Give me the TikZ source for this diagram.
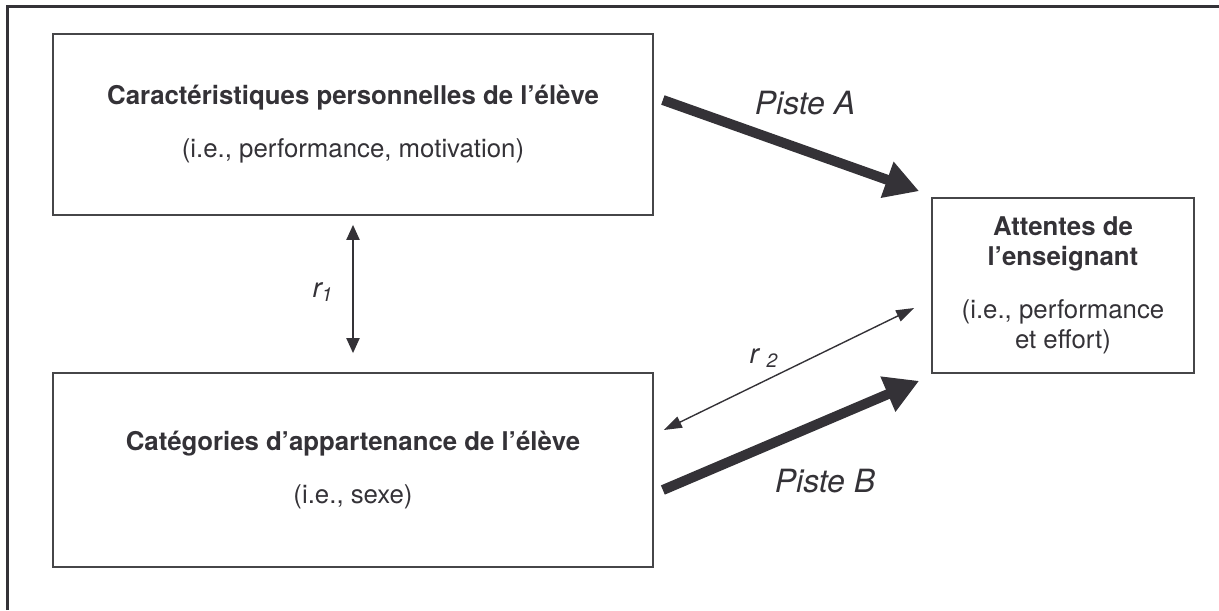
\documentclass[tikz,border=0pt]{standalone}
\usepackage{fontspec}
\setmainfont{TeX Gyre Heros}
\usetikzlibrary{arrows.meta}
\definecolor{ink}{RGB}{52, 50, 55}
\definecolor{edge}{RGB}{70, 70, 72}

\begin{document}
\begin{tikzpicture}[x=0.5pt, y=-0.5pt,
  box/.style={rectangle, draw=edge, line width=0.85pt, text=ink, align=center, inner sep=0pt,
    font=\fontsize{12.9}{14.8}\selectfont},
  bigarrow/.style={draw=ink, line width=5pt, -{Triangle[length=17pt, width=18pt]}},
  thinarrow/.style={draw=ink, line width=0.7pt, {Triangle[length=9pt, width=6pt]}-{Triangle[length=9pt, width=6pt]}},
  vertarrow/.style={draw=ink, line width=1pt, {Triangle[length=7.5pt, width=6.5pt]}-{Triangle[length=7.5pt, width=6.5pt]}},
  piste/.style={text=ink, font=\fontsize{16}{18}\selectfont\itshape},
  corr/.style={text=ink, font=\fontsize{13.8}{16}\selectfont\itshape}]
\useasboundingbox (0,0) rectangle (1219,610);
\draw [draw=ink, line width=1.5pt] (7,610) -- (7,7) -- (1219,7);
\node (perso) [box, minimum width=300pt, minimum height=90.5pt] at (353, 124.5)
  {\textbf{Caractéristiques personnelles de l’élève}\\[11.7pt] (i.e., performance, motivation)};
\node (categ) [box, minimum width=300pt, minimum height=97pt] at (353, 470)
  {\textbf{Catégories d’appartenance de l’élève}\\[11.7pt] (i.e., sexe)};
\node (attentes) [box, minimum width=131pt, minimum height=87.5pt] at (1063, 285.5)
  {\textbf{Attentes de}\\ \textbf{l’enseignant}\\[12pt] (i.e., performance\\ et effort)};
\coordinate (aStart) at ([shift={(9,-24.5)}]perso.east);
\coordinate (aEnd) at ([shift={(-12,-6)}]attentes.north west);
\coordinate (bStart) at ([shift={(9,20)}]categ.east);
\coordinate (bEnd) at ([shift={(-12,7)}]attentes.south west);
\coordinate (rTop) at ([shift={(0,9)}]perso.south);
\coordinate (rBot) at ([shift={(0,-19)}]categ.north);
\coordinate (sLeft) at ([shift={(10,-40)}]categ.east);
\coordinate (sRight) at ([shift={(-17,22.5)}]attentes.west);
\draw [bigarrow] (aStart) to (aEnd);
\draw [bigarrow] (bStart) to (bEnd);
\draw [vertarrow] (rTop) to (rBot);
\draw [thinarrow] (sLeft) to (sRight);
\node (pisteA) [piste] at (805, 103) {Piste A};
\node (pisteB) [piste] at (825, 481) {Piste B};
\node (rOne) [corr] at (323, 292) {r\textsubscript{1}};
\node (rTwo) [corr] at (764, 358) {r \textsubscript{2}};
\end{tikzpicture}
\end{document}
